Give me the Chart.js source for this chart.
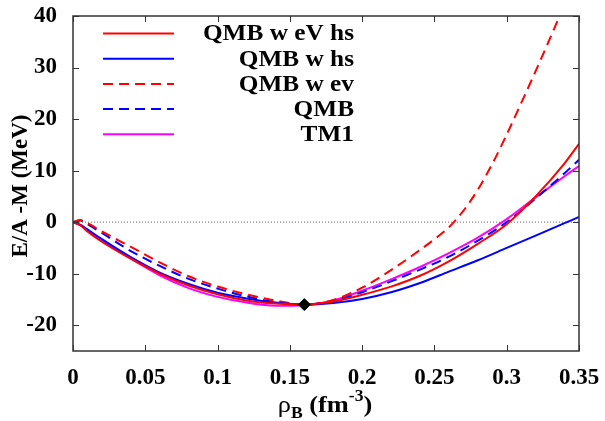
<!DOCTYPE html>
<html>
<head>
<meta charset="utf-8">
<script src="https://cdn.jsdelivr.net/npm/chart.js"></script>
<style>
  html, body { margin: 0; padding: 0; background: #fff; }
  #wrap { width: 605px; height: 421px; position: relative; }
</style>
</head>
<body>
<div id="wrap"><canvas id="chart"></canvas></div>
<script>
// densities (fm^-3) shared by most curves
const rho = [0, 0.005, 0.01, 0.02, 0.04, 0.06, 0.08, 0.10, 0.12, 0.14, 0.16, 0.18, 0.20, 0.22, 0.24, 0.26, 0.28, 0.30, 0.32, 0.34, 0.35];
const qmbEvHs = [0, -0.6, -1.8, -3.8, -7.1, -10.0, -12.3, -14.0, -15.2, -15.8, -16.0, -15.4, -14.1, -12.5, -10.4, -7.6, -4.2, -0.4, 5.0, 11.4, 15.2];
const qmbHs   = [0, -0.5, -1.4, -3.3, -6.8, -9.8, -12.0, -13.7, -14.8, -15.6, -16.0, -15.7, -14.9, -13.6, -11.8, -9.6, -7.4, -5.0, -2.6, -0.2, 1.0];
const qmbDash = [0, 0.3, -0.4, -2.1, -5.6, -8.5, -11.0, -12.9, -14.4, -15.5, -16.0, -15.3, -13.6, -11.5, -9.2, -6.7, -3.6, 0.0, 4.6, 9.5, 12.1];
const tm1     = [0, -0.6, -1.6, -3.6, -7.1, -10.3, -12.8, -14.5, -15.6, -16.2, -16.1, -15.2, -13.3, -11.1, -8.7, -6.0, -3.0, 0.6, 4.8, 8.9, 10.9];

// QMB w ev needs finer sampling where it climbs steeply
const rhoEv = [0, 0.005, 0.01, 0.02, 0.04, 0.06, 0.08, 0.10, 0.12, 0.14, 0.16, 0.18, 0.20, 0.22, 0.24, 0.25, 0.26, 0.27, 0.28, 0.29, 0.30, 0.31, 0.32, 0.33, 0.34, 0.35];
const qmbEv = [0, 0.4, -0.2, -1.8, -4.8, -7.8, -10.5, -12.5, -14.0, -15.2, -16.0, -15.1, -12.7, -9.3, -5.4, -3.3, -1.0, 2.2, 6.3, 11.3, 17.0, 23.1, 29.3, 35.7, 42.3, 49.0];

const satRho = [0.16];
const satE = [-16];

const xTickVals = [0, 0.05, 0.1, 0.15, 0.2, 0.25, 0.3, 0.35];
const xTickLabels = ['0', '0.05', '0.1', '0.15', '0.2', '0.25', '0.3', '0.35'];
const yTickVals = [-20, -10, 0, 10, 20, 30, 40];
const yTickLabels = ['-20', '-10', '0', '10', '20', '30', '40'];

const FONT = '"Liberation Serif", "Times New Roman", serif';
const STRETCH = 1.1; // the original lettering is a bit wider than Times

function pts(xs, ys) {
    return xs.map((x, i) => ({ x: x, y: ys[i] }));
}

function curve(label, xs, ys, color, dash) {
    return {
        label: label,
        data: pts(xs, ys),
        borderColor: color,
        borderWidth: 2,
        borderDash: dash || [],
        pointRadius: 0,
        cubicInterpolationMode: 'monotone',
        fill: false,
        inLegend: true,
    };
}

const datasets = [
    curve('QMB w eV hs', rho, qmbEvHs, '#ff0000'),
    curve('QMB w hs', rho, qmbHs, '#0000ff'),
    curve('QMB w ev', rhoEv, qmbEv, '#ff0000', [10, 6]),
    curve('QMB', rho, qmbDash, '#0000ff', [10, 6]),
    curve('TM1', rho, tm1, '#ff00ff'),
    {
        label: 'zero',
        data: pts([0, 0.35], [0, 0]),
        borderColor: '#666',
        borderWidth: 1,
        borderDash: [1, 2],
        pointRadius: 0,
        order: 10,
    },
    {
        label: 'saturation',
        type: 'scatter',
        data: pts(satRho, satE),
        pointStyle: 'rectRot',
        pointRadius: 6,
        backgroundColor: '#000',
        borderColor: '#000',
        showLine: false,
        order: -1,
    },
];

function wideText(ctx, text, x, y) {
    ctx.save();
    ctx.translate(x, y);
    ctx.scale(STRETCH, 1);
    ctx.fillText(text, 0, 0);
    ctx.restore();
}

function noPad(s) {
    s.paddingTop = 0; s.paddingBottom = 0;
    s.paddingLeft = 0; s.paddingRight = 0;
}

// frame, mirrored inward ticks, titles, gnuplot-like key
const decorations = {
    id: 'decorations',
    afterDraw(chart) {
        const ctx = chart.ctx;
        const a = chart.chartArea;
        const xs = chart.scales.x, ys = chart.scales.y;
        ctx.save();
        ctx.strokeStyle = '#333';
        ctx.lineWidth = 1.5;
        ctx.strokeRect(a.left, a.top, a.right - a.left, a.bottom - a.top);
        ctx.lineWidth = 1;
        const tl = 6;
        ctx.beginPath();
        xTickVals.forEach(v => {
            const px = Math.round(xs.getPixelForValue(v)) + 0.5;
            ctx.moveTo(px, a.bottom); ctx.lineTo(px, a.bottom - tl);
            ctx.moveTo(px, a.top); ctx.lineTo(px, a.top + tl);
        });
        yTickVals.forEach(v => {
            const py = Math.round(ys.getPixelForValue(v)) + 0.5;
            ctx.moveTo(a.left, py); ctx.lineTo(a.left + tl, py);
            ctx.moveTo(a.right, py); ctx.lineTo(a.right - tl, py);
        });
        ctx.stroke();

        // y title
        ctx.fillStyle = '#000';
        ctx.font = 'bold 23px ' + FONT;
        ctx.textAlign = 'center';
        ctx.textBaseline = 'middle';
        ctx.save();
        ctx.translate(21, 186);
        ctx.rotate(-Math.PI / 2);
        ctx.fillText('E/A -M (MeV)', 0, 0);
        ctx.restore();

        // x title: rho_B (fm^-3)
        const parts = [
            { t: 'ρ', f: '24px ' + FONT, dy: 0 },
            { t: 'B', f: 'bold 16px ' + FONT, dy: 6 },
            { t: ' (fm', f: 'bold 24px ' + FONT, dy: 0 },
            { t: '-3', f: 'bold 16px ' + FONT, dy: -11 },
            { t: ')', f: 'bold 24px ' + FONT, dy: 0 },
        ];
        let total = 0;
        parts.forEach(p => { ctx.font = p.f; p.w = ctx.measureText(p.t).width * STRETCH; total += p.w; });
        let cx = 325 - total / 2;
        const base = 412;
        ctx.textAlign = 'left';
        ctx.textBaseline = 'alphabetic';
        parts.forEach(p => { ctx.font = p.f; wideText(ctx, p.t, cx, base + p.dy); cx += p.w; });

        // key
        let row = 0;
        chart.data.datasets.forEach(ds => {
            if (!ds.inLegend) return;
            const y = 33.5 + row * 25.2;
            ctx.strokeStyle = ds.borderColor;
            ctx.lineWidth = ds.borderWidth;
            ctx.setLineDash(ds.borderDash);
            ctx.beginPath();
            ctx.moveTo(103, y); ctx.lineTo(174, y);
            ctx.stroke();
            ctx.setLineDash([]);
            ctx.font = 'bold 23px ' + FONT;
            ctx.textAlign = 'right';
            ctx.textBaseline = 'middle';
            ctx.fillStyle = '#000';
            wideText(ctx, ds.label, 354, y + 1);
            row++;
        });
        ctx.restore();
    }
};

new Chart(document.getElementById('chart'), {
    type: 'line',
    data: { datasets: datasets },
    plugins: [decorations],
    options: {
        responsive: true,
        maintainAspectRatio: false,
        animation: false,
        events: [],
        layout: { padding: { top: 16, right: 26, left: 0, bottom: 0 } },
        plugins: { legend: { display: false }, tooltip: { enabled: false } },
        scales: {
            x: {
                type: 'linear',
                min: 0, max: 0.35,
                grid: { display: false, drawTicks: false },
                border: { display: false },
                afterFit: s => { s.height = 70; noPad(s); },
                afterBuildTicks: s => { s.ticks = xTickVals.map(v => ({ value: v })); },
                ticks: {
                    padding: 13,
                    maxRotation: 0,
                    color: '#000',
                    font: { family: FONT, size: 23, weight: 'bold' },
                    callback: (v, i) => xTickLabels[i],
                },
            },
            y: {
                type: 'linear',
                min: -25, max: 40,
                grid: { display: false, drawTicks: false },
                border: { display: false },
                afterFit: s => { s.width = 73; noPad(s); },
                afterBuildTicks: s => { s.ticks = yTickVals.map(v => ({ value: v })); },
                ticks: {
                    padding: 16,
                    color: '#000',
                    font: { family: FONT, size: 23, weight: 'bold' },
                    callback: (v, i) => yTickLabels[i],
                },
            },
        },
    },
});
</script>
</body>
</html>
